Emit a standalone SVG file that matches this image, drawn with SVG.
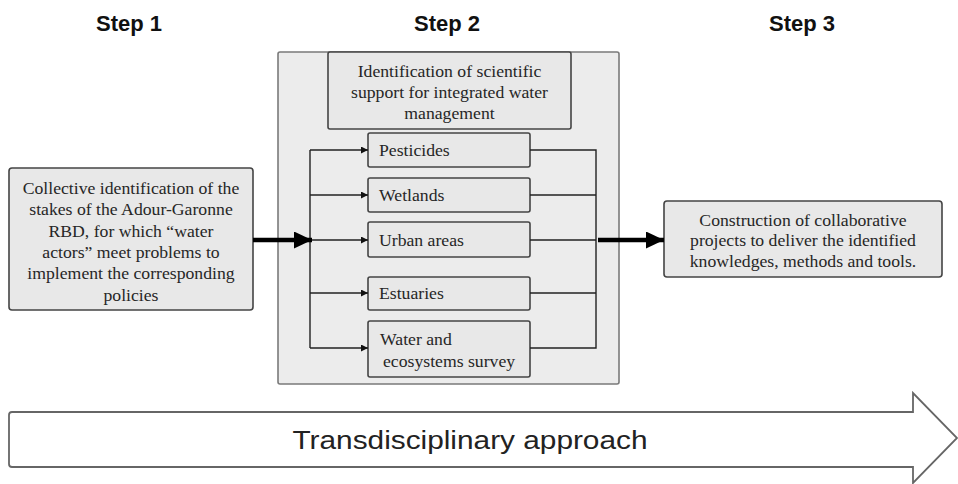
<svg xmlns="http://www.w3.org/2000/svg" width="958" height="484" viewBox="0 0 958 484">
<style>
.step{font-family:"Liberation Sans",Arial,sans-serif;font-weight:bold;font-size:22px;fill:#111;text-anchor:middle}
.t{font-family:"Liberation Serif","Times New Roman",serif;font-size:17.7px;fill:#262626}
.c{text-anchor:middle}
.box{fill:#e8e8e8;stroke:#444;stroke-width:1.6}
.big{fill:#ececec;stroke:#7a7a7a;stroke-width:1.6}
.ln{fill:none;stroke:#222;stroke-width:1.4}
.thick{fill:none;stroke:#000;stroke-width:4.5}
</style>
<defs>
<marker id="sm" viewBox="0 0 10 10" refX="10" refY="5" markerWidth="7" markerHeight="7" markerUnits="userSpaceOnUse" orient="auto"><path d="M0,0L10,5L0,10z" fill="#111"/></marker>
<marker id="big" viewBox="0 0 10 10" refX="10" refY="5" markerWidth="18" markerHeight="17" markerUnits="userSpaceOnUse" orient="auto" preserveAspectRatio="none"><path d="M0,0L10,5L0,10z" fill="#000"/></marker>
</defs>
<rect width="958" height="484" fill="#fff"/>
<text class="step" x="129" y="31">Step 1</text>
<text class="step" x="447" y="31">Step 2</text>
<text class="step" x="802" y="31">Step 3</text>
<g id="step2-frame"><rect class="big" x="278" y="52" width="341" height="332" rx="2"/></g>
<g id="title"><rect class="box" x="328" y="52" width="243" height="77" rx="2"/>
<text class="t c" x="449.5"><tspan x="449.5" y="77">Identification of scientific</tspan><tspan x="449.5" y="98">support for integrated water</tspan><tspan x="449.5" y="119">management</tspan></text></g>
<g id="step1"><rect class="box" x="9" y="168" width="244" height="142" rx="3"/>
<text class="t c"><tspan x="131" y="194">Collective identification of the</tspan><tspan x="131" y="215">stakes of the Adour-Garonne</tspan><tspan x="131" y="237">RBD, for which “water</tspan><tspan x="131" y="258">actors” meet problems to</tspan><tspan x="131" y="279">implement the corresponding</tspan><tspan x="131" y="301">policies</tspan></text></g>
<g id="step3"><rect class="box" x="664" y="201" width="278" height="76" rx="3"/>
<text class="t c"><tspan x="803" y="226">Construction of collaborative</tspan><tspan x="803" y="246">projects to deliver the identified</tspan><tspan x="803" y="267">knowledges, methods and tools.</tspan></text></g>
<g id="pesticides"><rect class="box" x="368" y="133" width="162" height="34" rx="2"/><text class="t" x="379" y="156">Pesticides</text></g>
<g id="wetlands"><rect class="box" x="368" y="178" width="162" height="34" rx="2"/><text class="t" x="379" y="201">Wetlands</text></g>
<g id="urban"><rect class="box" x="368" y="222" width="162" height="35" rx="2"/><text class="t" x="379" y="246">Urban areas</text></g>
<g id="estuaries"><rect class="box" x="368" y="277" width="162" height="33" rx="2"/><text class="t" x="379" y="299">Estuaries</text></g>
<g id="water"><rect class="box" x="368" y="321" width="162" height="56" rx="2"/><text class="t"><tspan x="380" y="345">Water and</tspan><tspan x="383" y="367">ecosystems survey</tspan></text></g>
<g id="transdisciplinary"><path d="M12,412H913V393L957,438L913,483V467H12Q9,467 9,464V415Q9,412 12,412Z" fill="#fff" stroke="#666" stroke-width="1.8"/>
<text x="470" y="449" font-family="'Liberation Sans',Arial,sans-serif" font-size="26" fill="#222" text-anchor="middle" textLength="355" lengthAdjust="spacingAndGlyphs">Transdisciplinary approach</text></g>
<g id="connectors">
<path class="ln" d="M310,150V348"/>
<path class="ln" d="M310,150H368" marker-end="url(#sm)"/>
<path class="ln" d="M310,195H368" marker-end="url(#sm)"/>
<path class="ln" d="M310,240H368" marker-end="url(#sm)"/>
<path class="ln" d="M310,293H368" marker-end="url(#sm)"/>
<path class="ln" d="M310,348H368" marker-end="url(#sm)"/>
<path class="ln" d="M530,150H596V348H530M530,195H596M530,240H596M530,293H596"/>
<path class="thick" d="M253,240H312" marker-end="url(#big)"/>
<path class="thick" d="M598,240H664" marker-end="url(#big)"/>
</g>
</svg>
